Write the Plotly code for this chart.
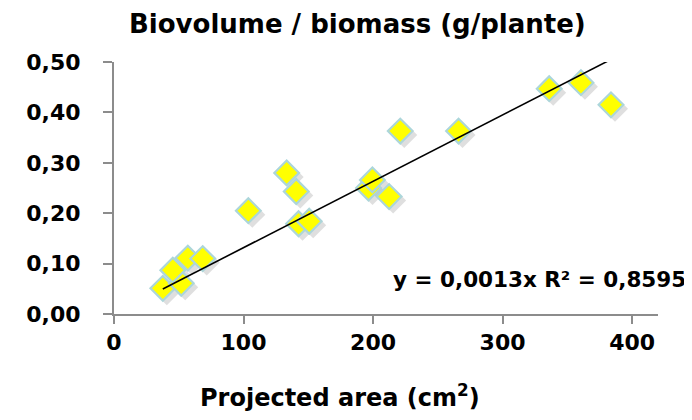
import numpy as np
import plotly.graph_objects as go

# Data
area_cm2 = [37.7, 51.9, 45.4, 57.0, 68.5, 103.7, 133.3, 140.7, 142.5, 150.7,
            196.5, 199.5, 212.4, 221.0, 266.0, 336.0, 360.5, 383.7]
biomass_g = [0.051, 0.061, 0.087, 0.111, 0.110, 0.205, 0.280, 0.243, 0.179, 0.184,
             0.250, 0.266, 0.233, 0.363, 0.363, 0.447, 0.459, 0.415]

y_ticks = [0.0, 0.1, 0.2, 0.3, 0.4, 0.5]
y_tick_labels = ["0,00", "0,10", "0,20", "0,30", "0,40", "0,50"]
x_ticks = [0, 100, 200, 300, 400]

title_text = "Biovolume / biomass (g/plante)"
x_title = "Projected area (cm<sup>2</sup>)"
eq_text = "y = 0,0013x R² = 0,8595"

# Linear trend through origin (least squares)
xa = np.array(area_cm2)
ya = np.array(biomass_g)
slope = float((xa * ya).sum() / (xa * xa).sum())
x_line = [float(xa.min()), float(xa.max())]
y_line = [slope * v for v in x_line]

FONT = "DejaVu Sans"
W, H = 692, 420
# desired plot area (px)
PL, PR, PT, PB = 106, 650, 54, 306
SH = 4  # shadow offset px
L, R, T, B = PL, W - PR - SH, PT, H - PB - SH
aw = W - L - R
ah = H - T - B
dx = SH / aw
dy = SH / ah

fig = go.Figure()

# soft shadow, drawn on a hidden pair of axes shifted a few pixels
fig.add_trace(go.Scatter(
    x=area_cm2, y=biomass_g, mode="markers", xaxis="x2", yaxis="y2",
    marker=dict(symbol="diamond", size=20, color="rgba(110,110,110,0.22)",
                line=dict(width=0)),
    hoverinfo="skip", showlegend=False))

# real markers + trend on hidden axes identical to the visible ones
fig.add_trace(go.Scatter(
    x=area_cm2, y=biomass_g, mode="markers", xaxis="x3", yaxis="y3",
    marker=dict(symbol="diamond", size=19, color="#ffff00",
                line=dict(width=2.2, color="#acd6da")),
    showlegend=False))

fig.add_trace(go.Scatter(
    x=x_line, y=y_line, mode="lines", xaxis="x3", yaxis="y3",
    line=dict(color="black", width=1.6), showlegend=False))

# empty trace to make the visible axes exist
fig.add_trace(go.Scatter(x=[], y=[], mode="markers", showlegend=False,
                         hoverinfo="skip"))

axis_col = "#8c8c8c"

fig.update_layout(
    width=W, height=H,
    margin=dict(l=L, r=R, t=T, b=B),
    paper_bgcolor="white", plot_bgcolor="rgba(0,0,0,0)",
    font=dict(family=FONT, color="black"),
    xaxis=dict(range=[0, 420], domain=[0, 1 - dx], tickvals=x_ticks,
               ticks="outside", ticklen=8, anchor="y",
               tickwidth=1.5, tickcolor=axis_col, showline=True, linecolor=axis_col,
               linewidth=2, showgrid=False, zeroline=False,
               tickfont=dict(family=FONT, size=22, color="black", weight="bold"),
               ticklabelstandoff=0),
    yaxis=dict(range=[0, 0.5], domain=[dy, 1], tickvals=y_ticks,
               ticktext=y_tick_labels, anchor="x",
               ticks="outside", ticklen=9, tickwidth=1.5, tickcolor=axis_col,
               showline=True, linecolor=axis_col, linewidth=2, showgrid=False,
               zeroline=False,
               tickfont=dict(family=FONT, size=22, color="black", weight="bold"),
               ticklabelstandoff=18),
    xaxis2=dict(range=[0, 420], domain=[dx, 1], anchor="y2", visible=False),
    yaxis2=dict(range=[0, 0.5], domain=[0, 1 - dy], anchor="x2", visible=False),
    xaxis3=dict(range=[0, 420], domain=[0, 1 - dx], anchor="y3", visible=False),
    yaxis3=dict(range=[0, 0.5], domain=[dy, 1], anchor="x3", visible=False),
    annotations=[
        dict(text="<b>" + title_text + "</b>", xref="paper", yref="paper",
             x=(349 - L) / aw, y=(H - B - 16) / ah,
             xanchor="center", yanchor="middle", showarrow=False,
             font=dict(family=FONT, size=26, color="black")),
        dict(text="<b>" + x_title + "</b>", xref="paper", yref="paper",
             x=(332 - L) / aw, y=(H - B - 388) / ah,
             xanchor="center", yanchor="middle", showarrow=False,
             font=dict(family=FONT, size=24, color="black")),
        dict(text="<b>" + eq_text + "</b>", xref="paper", yref="paper",
             x=(531 - L) / aw, y=(H - B - 271) / ah,
             xanchor="center", yanchor="middle", showarrow=False,
             font=dict(family=FONT, size=21.5, color="black")),
    ],
)

fig.write_html("out.html")
